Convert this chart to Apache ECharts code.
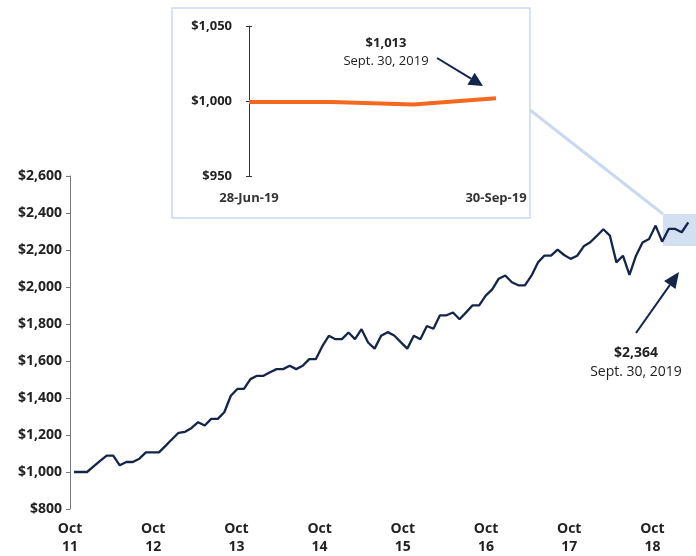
<!DOCTYPE html>
<html>
<head>
<meta charset="utf-8">
<script src="https://cdn.jsdelivr.net/npm/echarts@6/dist/echarts.min.js"></script>
<style>
    html, body { margin: 0; padding: 0; background: #fff; }
    #chart { width: 696px; height: 556px; }
</style>
</head>
<body>
<div id="chart"></div>
<script>
// growth of $1,000, Oct 2011 - Sept 30, 2019
const yearLabels = ['11', '12', '13', '14', '15', '16', '17', '18'];
const growth = [
    1000, 1000, 1000, 1030, 1060, 1089, 1089, 1036, 1054, 1054,
    1072, 1106, 1106, 1106, 1141, 1177, 1212, 1217, 1238, 1269,
    1251, 1287, 1287, 1323, 1412, 1449, 1449, 1502, 1520, 1520,
    1539, 1556, 1556, 1574, 1556, 1574, 1610, 1610, 1680, 1736,
    1718, 1718, 1754, 1718, 1772, 1700, 1667, 1736, 1756, 1738,
    1702, 1667, 1736, 1718, 1789, 1774, 1847, 1847, 1862, 1826,
    1863, 1901, 1901, 1953, 1987, 2045, 2062, 2026, 2009, 2009,
    2061, 2133, 2170, 2170, 2202, 2173, 2152, 2169, 2220, 2242,
    2276, 2312, 2278, 2133, 2169, 2065, 2169, 2240, 2260, 2332,
    2245, 2314, 2314, 2296, 2349
];
const mainMin = 800, mainMax = 2600, mainStep = 200;

// inset: last quarter
const insetDates = ['28-Jun-19', '31-Jul-19', '30-Aug-19', '30-Sep-19'];
const insetValues = [999.4, 999.4, 997.6, 1001.8];
const insetMin = 950, insetMax = 1050, insetStep = 50;

const FONT = 'Open Sans';
const NAVY = '#14254a';
const money = v => '$' + Math.round(v).toLocaleString('en-US');

// little arrow: shaft + filled head
function arrow(x1, y1, x2, y2, head, half) {
    const dx = x2 - x1, dy = y2 - y1;
    const len = Math.sqrt(dx * dx + dy * dy);
    const ux = dx / len, uy = dy / len;
    const bx = x2 - ux * head, by = y2 - uy * head;
    return [
        { type: 'line', z: 10, shape: { x1: x1, y1: y1, x2: bx, y2: by },
          style: { stroke: NAVY, lineWidth: 2 } },
        { type: 'polygon', z: 10,
          shape: { points: [[x2, y2], [bx - uy * half, by + ux * half], [bx + uy * half, by - ux * half]] },
          style: { fill: NAVY } }
    ];
}

function text(x, y, str, size, bold) {
    return {
        type: 'text', z: 10, x: x, y: y,
        style: { text: str, fontFamily: FONT, fontSize: size, fontWeight: bold ? 'bold' : 'normal',
                 fill: '#222', align: 'center', verticalAlign: 'middle' }
    };
}

document.addEventListener('DOMContentLoaded', function () {
    const chart = echarts.init(document.getElementById('chart'));

    chart.setOption({
        animation: false,
        grid: [
            { left: 70, right: 7, top: 176, bottom: 46 },
            { left: 249, right: 200, top: 26, bottom: 380 }
        ],
        xAxis: [
            {   // year labels
                type: 'value', gridIndex: 0, min: 0, max: 89.28, interval: 12,
                axisLine: { show: false }, axisTick: { show: false }, splitLine: { show: false },
                axisLabel: {
                    margin: 11, fontFamily: FONT, fontSize: 14, fontWeight: 'bold', color: '#222', lineHeight: 18,
                    formatter: v => (v % 12 === 0 ? 'Oct\n' + yearLabels[v / 12] : '')
                }
            },
            {   // data positions
                type: 'value', gridIndex: 0, min: -0.612, max: 94.11, show: false
            },
            {
                type: 'category', gridIndex: 1, data: insetDates, boundaryGap: false,
                axisLine: { show: false }, axisTick: { show: false },
                axisLabel: {
                    margin: 16, fontFamily: FONT, fontSize: 13, fontWeight: 'bold', color: '#333',
                    interval: (i) => i === 0 || i === insetDates.length - 1
                }
            }
        ],
        yAxis: [
            {
                type: 'value', gridIndex: 0, min: mainMin, max: mainMax, interval: mainStep,
                axisLine: { show: true, lineStyle: { color: '#777', width: 1 } },
                axisTick: { show: true, length: 4, lineStyle: { color: '#777' } },
                splitLine: { show: false },
                axisLabel: { margin: 8, fontFamily: FONT, fontSize: 14, fontWeight: 'bold', color: '#222', formatter: money }
            },
            {
                type: 'value', gridIndex: 1, position: 'left', min: insetMin, max: insetMax, interval: insetStep,
                axisLine: { show: true, lineStyle: { color: '#333', width: 1 } },
                axisTick: { show: true, length: 3, lineStyle: { color: '#333' } },
                splitLine: { show: false },
                axisLabel: { margin: 17, fontFamily: FONT, fontSize: 13, fontWeight: 'bold', color: '#222', formatter: money }
            },
            {   // tick marks crossing to the inside
                type: 'value', gridIndex: 1, position: 'left', offset: 0,
                min: insetMin, max: insetMax, interval: insetStep,
                axisLine: { show: false },
                axisTick: { show: true, inside: true, length: 3, lineStyle: { color: '#333' } },
                axisLabel: { show: false }, splitLine: { show: false }
            }
        ],
        series: [
            {
                type: 'line', xAxisIndex: 1, yAxisIndex: 0,
                data: growth.map((v, i) => [i, v]),
                symbol: 'none', clip: false,
                lineStyle: { color: NAVY, width: 2.3 }
            },
            {
                type: 'line', xAxisIndex: 2, yAxisIndex: 1,
                data: insetValues,
                symbol: 'none',
                lineStyle: { color: '#f4691f', width: 4 }
            }
        ],
        graphic: [
            { type: 'rect', z: -1, shape: { x: 172, y: 8, width: 358, height: 210 },
              style: { fill: '#fff', stroke: '#c9d9f0', lineWidth: 1.5 } },
            { type: 'line', z: -1, shape: { x1: 530, y1: 110, x2: 663, y2: 214 },
              style: { stroke: '#c9d9f0', lineWidth: 3 } },
            { type: 'rect', z: -1, shape: { x: 663, y: 214, width: 33, height: 32 },
              style: { fill: '#d3e0f2' } },
            text(386, 43, '$1,013', 13, true),
            text(386, 61, 'Sept. 30, 2019', 13, false),
            ...arrow(437, 58, 483, 86, 14, 7),
            text(636, 353, '$2,364', 14, true),
            text(636, 372, 'Sept. 30, 2019', 14, false),
            ...arrow(636, 333, 679, 272, 16, 7)
        ]
    });
});
</script>
</body>
</html>
